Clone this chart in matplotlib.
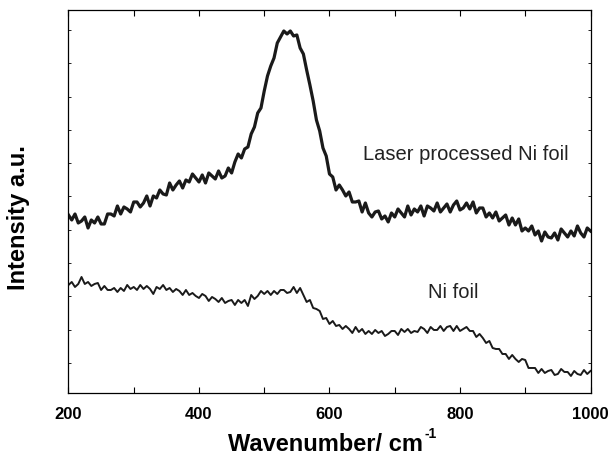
import numpy as np
import matplotlib
matplotlib.use("Agg")
import matplotlib.pyplot as plt
from matplotlib.ticker import MultipleLocator

# Wavenumber axis (cm^-1), step 5
wavenumber = np.arange(200, 1001, 5)

# Laser processed Ni foil (intensity, arbitrary units)
laser_ni = [
    178, 173, 179, 170, 172, 176, 165, 173, 170, 176,
    169, 169, 179, 179, 177, 187, 179, 186, 184, 181,
    191, 191, 186, 190, 197, 187, 197, 195, 203, 199,
    198, 210, 203, 208, 212, 205, 213, 211, 219, 215,
    211, 218, 210, 220, 217, 214, 222, 215, 217, 225,
    220, 231, 239, 235, 244, 246, 259, 266, 280, 285,
    302, 317, 327, 335, 350, 356, 362, 359, 362, 357,
    358, 345, 339, 323, 308, 292, 273, 262, 245, 237,
    219, 216, 203, 208, 203, 197, 201, 191, 191, 192,
    181, 190, 180, 176, 181, 182, 174, 177, 171, 180,
    176, 184, 180, 176, 187, 178, 184, 181, 187, 177,
    187, 185, 182, 190, 181, 185, 189, 181, 188, 192,
    183, 185, 190, 184, 191, 180, 185, 185, 176, 180,
    175, 181, 172, 175, 178, 168, 175, 168, 174, 162,
    165, 162, 167, 158, 162, 152, 161, 156, 155, 160,
    153, 164, 160, 156, 162, 157, 167, 160, 156, 165,
    162,
]

# Ni foil
ni_foil = [
    108, 111, 106, 109, 116, 109, 111, 107, 109, 110,
    103, 107, 103, 103, 105, 101, 105, 102, 108, 104,
    106, 103, 108, 104, 107, 104, 99, 106, 104, 108,
    103, 105, 101, 104, 102, 98, 103, 98, 100, 97,
    95, 99, 97, 92, 96, 94, 91, 95, 90, 92,
    93, 88, 93, 90, 93, 87, 98, 94, 97, 102,
    99, 102, 98, 102, 99, 103, 103, 100, 101, 106,
    100, 105, 98, 91, 93, 85, 84, 82, 74, 75,
    69, 72, 67, 68, 64, 67, 64, 60, 66, 61,
    64, 59, 62, 59, 63, 60, 62, 57, 59, 62,
    62, 58, 64, 61, 64, 60, 62, 61, 66, 64,
    60, 66, 63, 63, 67, 62, 66, 67, 62, 67,
    62, 64, 66, 62, 62, 56, 59, 55, 50, 52,
    45, 44, 44, 39, 39, 34, 38, 34, 31, 34,
    33, 25, 25, 25, 20, 24, 20, 22, 23, 18,
    19, 24, 21, 21, 17, 22, 19, 18, 23, 19,
    22,
]

plt.rcParams["font.family"] = ["Liberation Sans", "DejaVu Sans"]

fig = plt.figure(figsize=(6.13, 4.67), dpi=100)
ax = fig.add_axes([0.1117, 0.1585, 0.8516, 0.8201])

ax.plot(wavenumber, laser_ni, color="#1a1a1a", linewidth=2.3)
ax.plot(wavenumber, ni_foil, color="#1a1a1a", linewidth=1.4)

ax.text(809, 238, "Laser processed Ni foil", fontsize=14.5, ha="center", va="center", color="#222222")
ax.text(789, 100, "Ni foil", fontsize=14.5, ha="center", va="center", color="#222222")

ax.set_xlim(200, 1000)
ax.set_ylim(0, 383)
ax.xaxis.set_major_locator(MultipleLocator(200))
ax.xaxis.set_minor_locator(MultipleLocator(100))
ax.set_yticks(np.arange(30, 383, 33.3))
ax.tick_params(axis="x", which="both", direction="in", top=True, length=4, width=0.8,
               labelsize=12, pad=10)
ax.tick_params(axis="y", direction="in", right=True, length=2, width=0.6, labelleft=False)
for lab in ax.get_xticklabels():
    lab.set_fontweight("bold")
for s in ax.spines.values():
    s.set_linewidth(0.9)

ax.set_xlabel("Wavenumber/ cm", fontsize=17, fontweight="bold")
ax.xaxis.set_label_coords(0.4923, -0.104)
# small superscript "-1" after the label
ax.annotate("-1", xy=(1.0, 0.95), xycoords=ax.xaxis.label, xytext=(1, 0),
            textcoords="offset points", fontsize=10, fontweight="bold",
            ha="left", va="center", annotation_clip=False)
ax.set_ylabel("Intensity a.u.", fontsize=17, fontweight="bold")
ax.yaxis.set_label_coords(-0.074, 0.457)

fig.savefig("out.png", dpi=100)
